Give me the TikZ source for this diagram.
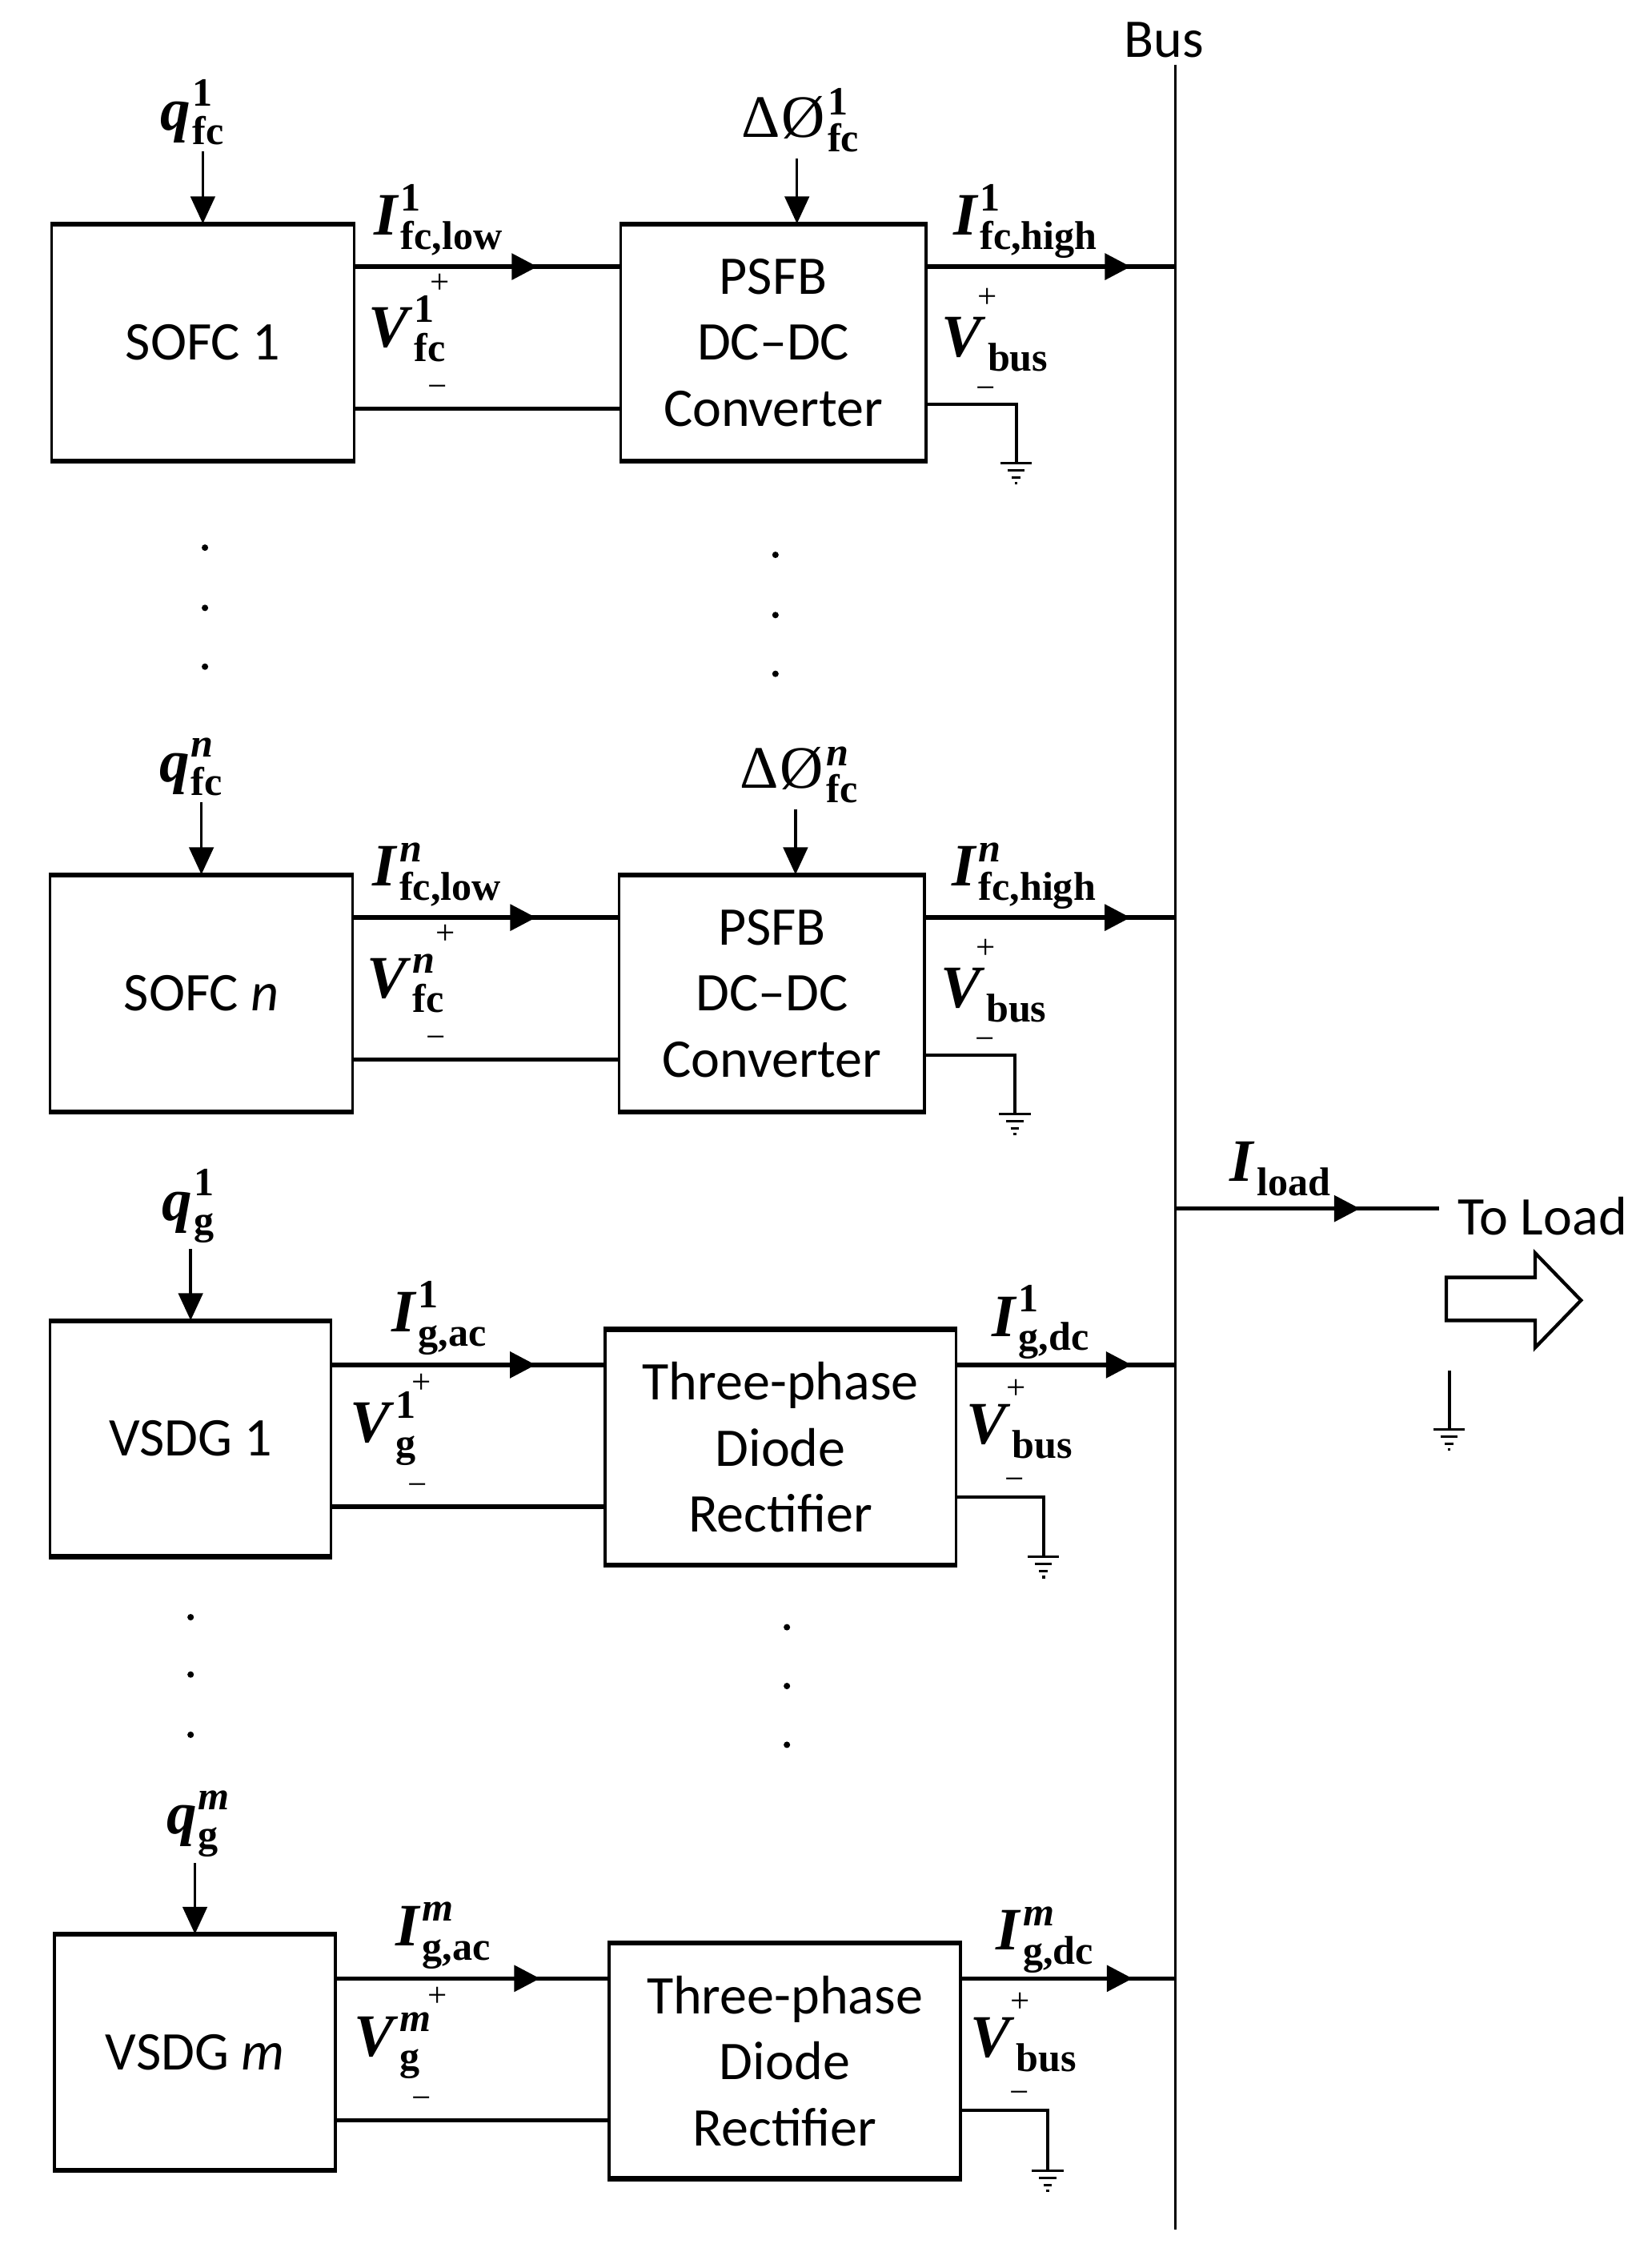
\documentclass[tikz,border=0pt]{standalone}
\usepackage{fontspec}
\setmainfont{Carlito}
\newfontfamily\lserif{Liberation Serif}
\usetikzlibrary{arrows.meta,decorations.markings,calc}

\newcommand{\subf}{\fontsize{28}{28}\selectfont\lserif\bfseries}
% base, superscript, subscript
\newcommand{\lab}[3]{\mbox{\lserif\bfseries\itshape #1\/}\kern1pt\rlap{\raisebox{17pt}{\subf #2}}\raisebox{-10pt}{\subf #3}}

\tikzset{
 blk/.style={draw, line width=2pt, rectangle, inner sep=0pt, align=center, font=\fontsize{38}{46}\selectfont},
 hedge/.style={line width=3pt},
 conn/.style={line width=3pt},
 midarr/.style={postaction={decorate}, decoration={markings, mark=at position #1 with {\arrow{Triangle[length=18pt,width=18pt]}}}},
 inarr/.style={line width=2pt, -{Triangle[length=19pt,width=17pt]}},
 ml/.style={inner sep=0pt, anchor=base west, font=\fontsize{42}{44}\selectfont},
 sg/.style={inner sep=0pt, font=\fontsize{24}{26}\selectfont\lserif},
 txt/.style={inner sep=0pt, font=\fontsize{38}{44}\selectfont},
 wire/.style={line width=2.2pt},
 dotm/.style={fill, circle, inner sep=0pt, minimum size=4.5pt},
 gnd/.pic={\draw[line width=1.8pt] (-11,0)--(11,0) (-6,5)--(6,5) (-3,10)--(3,10) (-1,14)--(1,14);}
}

% SOFC block: #1 shift, #2 id, #3 box label, #4 superscript, #5 plus x
\newcommand{\fcblock}[5]{%
\begin{scope}[shift={#1}]
\node[blk, minimum width=211pt, minimum height=164pt] (s#2) at (141.5,239) {#3};
\node[blk, minimum width=213pt, minimum height=164pt] (c#2) at (539.5,239) {PSFB\\DC--DC\\Converter};
\draw[hedge] (s#2.north west) -- (s#2.north east) (s#2.south west) -- (s#2.south east);
\draw[hedge] (c#2.north west) -- (c#2.north east) (c#2.south west) -- (c#2.south east);
\coordinate (s#2t) at ($(s#2.north east)+(0,30)$);
\coordinate (s#2b) at ($(s#2.south east)+(0,-37)$);
\coordinate (c#2g) at ($(c#2.south east)+(0,-40)$);
\draw[conn, midarr=0.69] (s#2t) -- (s#2t -| c#2.west);
\draw[conn] (s#2b) -- (s#2b -| c#2.west);
\draw[conn, midarr=0.82] (s#2t -| c#2.east) -- (s#2t -| bus);
\draw[wire] (c#2g) -- ++(62,0) -- ++(0,41) pic {gnd};
\node[ml] (q#2) at (112,91) {\lab{q}{#4}{fc}};
\draw[inarr, shorten <=4pt] (s#2.north |- q#2.south) -- (s#2.north);
\node[ml] (d#2) at (517,96) {\mbox{\lserif Δ\kern1pt Ø}\kern2pt\rlap{\raisebox{16pt}{\subf #4}}\raisebox{-10pt}{\subf fc}};
\draw[inarr, shorten <=4pt] ([xshift=39pt]d#2.south west) -- ([xshift=39pt]d#2.south west |- c#2.north);
\node[ml] (il#2) at (261,164) {\lab{I}{#4}{fc,low}};
\node[ml] (vf#2) at (257,242) {\lab{V}{#4}{fc}};
\node[sg] (vfp#2) at (#5,198) {+};
\node[sg] (vfm#2) at (305,273) {−};
\node[ml] (ih#2) at (665,164) {\lab{I}{#4}{fc,high}};
\node[ml] (vb#2) at (657,249) {\lab{V}{}{bus}};
\node[sg] (vbp#2) at (689,208) {+};
\node[sg] (vbm#2) at (688,274) {−};
\end{scope}}

% VSDG block: #1 shift, #2 id, #3 box label, #4 superscript, #5 plus x
\newcommand{\gblock}[5]{%
\begin{scope}[shift={#1}]
\node[blk, minimum width=196pt, minimum height=163pt] (v#2) at (133,1003.5) {#3};
\node[blk, minimum width=245pt, minimum height=163pt] (r#2) at (544.5,1009.5) {Three-phase\\Diode\\Rectifier};
\draw[hedge] (v#2.north west) -- (v#2.north east) (v#2.south west) -- (v#2.south east);
\draw[hedge] (r#2.north west) -- (r#2.north east) (r#2.south west) -- (r#2.south east);
\coordinate (v#2t) at ($(v#2.north east)+(0,31)$);
\coordinate (v#2b) at ($(v#2.south east)+(0,-35)$);
\coordinate (r#2g) at ($(r#2.south east)+(0,-48)$);
\draw[conn, midarr=0.75] (v#2t) -- (v#2t -| r#2.west);
\draw[conn] (v#2b) -- (v#2b -| r#2.west);
\draw[conn, midarr=0.80] (v#2t -| r#2.east) -- (v#2t -| bus);
\draw[wire] (r#2g) -- ++(60,0) -- ++(0,42) pic {gnd};
\node[ml] (qg#2) at (113,851) {\lab{q}{#4}{g}};
\draw[inarr, shorten <=4pt] (v#2.north |- qg#2.south) -- (v#2.north);
\node[ml] (ia#2) at (273,929) {\lab{I}{#4}{g,ac}};
\node[ml] (vg#2) at (244,1006) {\lab{V}{#4}{g}};
\node[sg] (vgp#2) at (#5,965) {+};
\node[sg] (vgm#2) at (291,1039) {−};
\node[ml] (id#2) at (692,932) {\lab{I}{#4}{g,dc}};
\node[ml] (vgb#2) at (674,1007) {\lab{V}{}{bus}};
\node[sg] (vgbp#2) at (709,969) {+};
\node[sg] (vgbm#2) at (708,1035) {−};
\end{scope}}

\begin{document}
\begin{tikzpicture}[x=1pt,y=-1pt]
\useasboundingbox (0,0) rectangle (1152,1568);

% bus
\coordinate (bus) at (820,45);
\coordinate (busend) at (820,1555);
\draw[wire] (bus) -- (busend);
\node[txt] (buslbl) at (812,28) {Bus};

\fcblock{(0,0)}{1}{SOFC 1}{1}{307}
\fcblock{(-1,454)}{n}{SOFC \textit{n}}{\itshape n}{312}
\gblock{(0,0)}{1}{VSDG 1}{1}{294}
\gblock{(3,428)}{m}{VSDG \textit{m}}{\itshape m}{302}

% dots
\node[dotm] (da1) at (143,382) {};
\node[dotm] (da2) at (143,424) {};
\node[dotm] (da3) at (143,465) {};
\node[dotm] (db1) at (541,387) {};
\node[dotm] (db2) at (541,429) {};
\node[dotm] (db3) at (541,470) {};
\node[dotm] (dc1) at (133,1128) {};
\node[dotm] (dc2) at (133,1168) {};
\node[dotm] (dc3) at (133,1210) {};
\node[dotm] (dd1) at (549,1135) {};
\node[dotm] (dd2) at (549,1176) {};
\node[dotm] (dd3) at (549,1217) {};

% load
\coordinate (ldb) at (820,843);
\node[txt, anchor=west, inner xsep=13pt] (tl) at (1004,848) {To Load};
\draw[conn, midarr=0.70] (ldb) -- (ldb -| tl.west);
\node[ml] (il) at (858,824) {\lab{I}{}{load}};
\draw[line width=2.4pt, line join=miter] (1009,891) -- (1071,891) -- (1071,874) -- (1103,907) -- (1071,940) -- (1071,921) -- (1009,921) -- cycle;
\draw[wire] (1011,956) -- (1011,997) pic {gnd};
\end{tikzpicture}
\end{document}
